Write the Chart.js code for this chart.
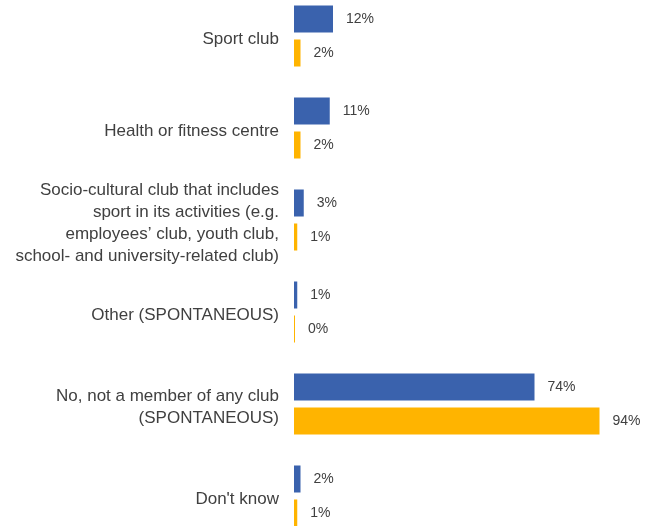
<!DOCTYPE html>
<html>
<head>
<meta charset="utf-8">
<script src="https://cdn.jsdelivr.net/npm/chart.js@4/dist/chart.umd.min.js"></script>
<style>
  html, body { margin: 0; padding: 0; background: #ffffff; overflow: hidden; }
  #wrap { position: absolute; left: 0; top: -10px; width: 653px; height: 552px; }
</style>
</head>
<body>
<div id="wrap"><canvas id="grafica"></canvas></div>
<script>
// categorias y valores (%)
var categorias = [
	["Sport club"],
	["Health or fitness centre"],
	["Socio-cultural club that includes", "sport in its activities (e.g.", "employees\u2019 club, youth club,", "school- and university-related club)"],
	["Other (SPONTANEOUS)"],
	["No, not a member of any club", "(SPONTANEOUS)"],
	["Don't know"]
];
var serie_azul = [12, 11, 3, 1, 74, 2];
var serie_amarilla = [2, 2, 1, 0, 94, 1];

var color_azul = "#3A62AD";
var color_amarillo = "#FFB400";
var color_texto = "#404040";

// etiquetas de valor al final de cada barra
var etiquetasValor = {
	id: 'etiquetasValor',
	afterDatasetsDraw: function (chart)
	{
		var ctx = chart.ctx;
		ctx.save();
		ctx.font = "14px 'Liberation Sans', Arial, sans-serif";
		ctx.fillStyle = color_texto;
		ctx.textAlign = "left";
		ctx.textBaseline = "middle";
		chart.data.datasets.forEach(function (dataset, i)
		{
			var meta = chart.getDatasetMeta(i);
			meta.data.forEach(function (barra, j)
			{
				ctx.fillText(dataset.data[j] + "%", barra.x + 13, barra.y);
			});
		});
		ctx.restore();
	}
};

var contexto = document.getElementById('grafica').getContext('2d');

new Chart(contexto, {
	type: 'bar',
	data: {
		labels: categorias,
		datasets: [{
			label: "2017",
			data: serie_azul,
			backgroundColor: color_azul,
			borderWidth: 0,
			barPercentage: 0.794,
			categoryPercentage: 0.739
		}, {
			label: "2013",
			data: serie_amarilla,
			backgroundColor: color_amarillo,
			borderWidth: 0,
			minBarLength: 1,
			barPercentage: 0.794,
			categoryPercentage: 0.739
		}]
	},
	options: {
		indexAxis: 'y',
		responsive: true,
		maintainAspectRatio: false,
		animation: false,
		layout: { padding: { left: 0, right: 1.5, top: 0, bottom: 0 } },
		plugins: {
			legend: { display: false },
			tooltip: { enabled: false }
		},
		scales: {
			x: {
				display: false,
				min: 0,
				max: 110
			},
			y: {
				grid: { display: false, drawTicks: false },
				border: { display: false },
				ticks: {
					color: color_texto,
					padding: 15,
					labelOffset: 3,
					font: { family: "'Liberation Sans', Arial, sans-serif", size: 17, lineHeight: 1.3 }
				},
				afterFit: function (escala)
				{
					escala.width = 294;
					escala.paddingTop = 0;
					escala.paddingBottom = 0;
				}
			}
		}
	},
	plugins: [etiquetasValor]
});
</script>
</body>
</html>
